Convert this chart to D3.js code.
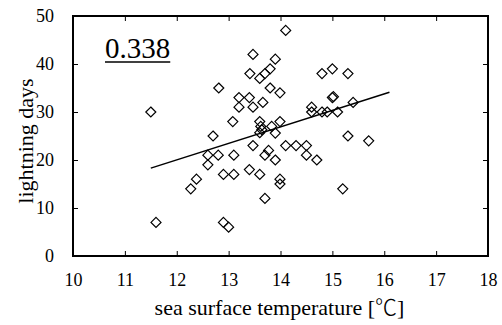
<!DOCTYPE html>
<html><head><meta charset="utf-8">
<script src="https://cdn.jsdelivr.net/npm/d3@7"></script>
<style>
html,body{margin:0;padding:0;background:#fff;}
</style></head>
<body><svg id="c" width="502" height="325"></svg>
<script>
const sst = [11.5,11.6,12.27,12.38,12.6,12.6,12.8,12.7,12.81,12.9,13.0,12.9,13.1,13.1,13.08,13.2,13.2,13.4,13.47,13.4,13.47,13.6,13.6,13.62,13.64,13.6,13.66,13.7,13.77,13.83,13.9,13.9,13.99,13.99,13.99,13.7,13.47,13.9,13.41,13.7,13.8,13.6,13.8,13.99,14.1,14.1,14.3,14.5,14.5,14.7,14.6,14.6,14.8,14.9,15.1,14.8,15.0,15.3,15.0,15.02,15.4,15.3,15.7,15.2];
const days = [30,7,14,16,19,21,21,25,35,7,6,17,17,21,28,31,33,33,31,18,23,17,28,27,26.3,25.7,32,21,22,27,25.6,20,28,16,15,12,42,41,38,38,39,37,35,34,47,23,23,23,21,20,31,30,30,30,30,38,39,38,33,33.2,32,25,24,14];
const fitX = [11.5,16.1];
const fitY = [18.3,34.1];
const xTicks = [10,11,12,13,14,15,16,17,18];
const yTicks = [0,10,20,30,40,50];
const corrLabel = "0.338";
const xTitleText = "sea surface temperature [";
const xTitleUnit = "\u2103";
const xTitleEnd = "]";
const yTitle = "lightning days";

const FONT = "'Liberation Serif','DejaVu Serif',serif";
const svg = d3.select("#c");
const L=73,R=488,T=16,B=256;
const x = d3.scaleLinear().domain([10,18]).range([L,R]);
const y = d3.scaleLinear().domain([0,50]).range([B,T]);

function styleAxis(g){
  g.attr("font-family",FONT);
  g.select(".domain").remove();
  g.selectAll("text").attr("font-family",FONT).attr("font-size",18).attr("fill","#000");
  g.selectAll("line").attr("stroke-width",1);
}
svg.append("g").attr("transform",`translate(0,${B})`)
  .call(d3.axisBottom(x).tickValues(xTicks).tickSize(-5).tickPadding(17).tickFormat(d3.format("d")))
  .call(styleAxis);
svg.append("g").attr("transform",`translate(0,${T})`)
  .call(d3.axisTop(x).tickValues(xTicks).tickSize(-5).tickFormat(""))
  .call(styleAxis);
svg.append("g").attr("transform",`translate(${L},0)`)
  .call(d3.axisLeft(y).tickValues(yTicks).tickSize(-5).tickPadding(19).tickFormat(d3.format("d")))
  .call(styleAxis);
svg.append("g").attr("transform",`translate(${R},0)`)
  .call(d3.axisRight(y).tickValues(yTicks).tickSize(-5).tickFormat(""))
  .call(styleAxis);

svg.append("rect").attr("x",L).attr("y",T).attr("width",R-L).attr("height",B-T)
  .attr("fill","none").attr("stroke","#000").attr("stroke-width",2);

svg.append("line").attr("x1",x(fitX[0])).attr("y1",y(fitY[0])).attr("x2",x(fitX[1])).attr("y2",y(fitY[1]))
  .attr("stroke","#000").attr("stroke-width",1.5);

const s=5;
svg.append("g").selectAll("path").data(d3.zip(sst,days)).join("path")
  .attr("d",d=>{const cx=x(d[0]),cy=y(d[1]);return `M${cx},${cy-s}L${cx+s},${cy}L${cx},${cy+s}L${cx-s},${cy}Z`;})
  .attr("fill","none").attr("stroke","#000").attr("stroke-width",1.2);

const t = svg.append("text").attr("x",105).attr("y",58).attr("font-family",FONT).attr("font-size",29).text(corrLabel);
const bb = t.node().getBBox();
svg.append("line").attr("x1",bb.x).attr("x2",bb.x+bb.width).attr("y1",62).attr("y2",62).attr("stroke","#000").attr("stroke-width",1.5);

const xt = svg.append("text").attr("x",(L+R)/2-1).attr("y",315).attr("text-anchor","middle").attr("font-family",FONT).attr("font-size",22);
xt.append("tspan").text(xTitleText);
xt.append("tspan").attr("font-family","'Noto Sans CJK JP'").attr("font-weight",300).text(xTitleUnit);
xt.append("tspan").text(xTitleEnd);
svg.append("text").attr("transform",`translate(33,141) rotate(-90)`).attr("text-anchor","middle").attr("font-family",FONT).attr("font-size",22).text(yTitle);
</script></body></html>
